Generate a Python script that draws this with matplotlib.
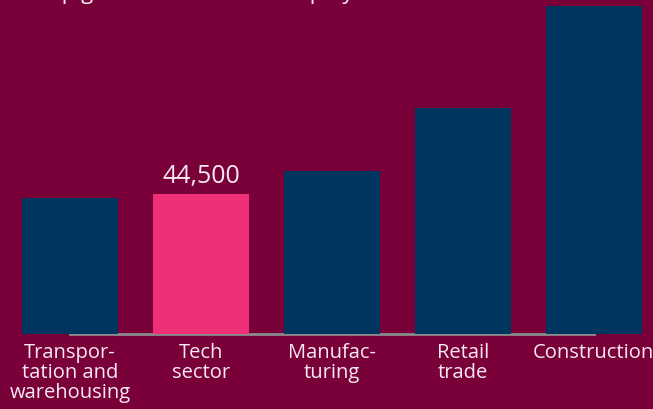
import matplotlib.pyplot as plt

# data
sectors = ["Transpor-\ntation and\nwarehousing", "Tech\nsector", "Manufac-\nturing", "Retail\ntrade", "Construction"]
jobs = [43200, 44500, 51800, 71800, 104300]
highlight = "Tech\nsector"
title = "Top growth sectors for employment"

bg = "#7a003a"
navy = "#00355f"
pink = "#ef2f78"
txt = "#f6e9f0"

plt.rcParams['font.family'] = ['Open Sans', 'DejaVu Sans']

fig = plt.figure(figsize=(6.53, 4.10), dpi=100, facecolor=bg)
ax = fig.add_axes([0, 75 / 410, 1, 335 / 410])
ax.set_facecolor(bg)

xs = list(range(len(sectors)))
colors = [pink if s == highlight else navy for s in sectors]
ax.bar(xs, jobs, width=0.733, color=colors, zorder=2)

# baseline behind the bars
ax.plot([xs[0], xs[-1]], [0, 0], color="#8a8a8a", lw=2, zorder=1, clip_on=False)

# value label for the highlighted bar
i = sectors.index(highlight)
ax.text(xs[i], jobs[i] + 2000, "{:,}".format(jobs[i]), ha="center", va="bottom",
        color=txt, fontsize=18)

ax.set_xlim(-0.535, 4.454)
ax.set_ylim(0, 106500)
ax.set_xticks(xs)
ax.set_xticklabels(sectors, color=txt, fontsize=14.5, linespacing=1.0)
ax.tick_params(axis="x", length=0, pad=6)
ax.set_yticks([])
for s in ax.spines.values():
    s.set_visible(False)

# title mostly cropped off the top of the picture
fig.text(36 / 653, 1.0 + 1 / 410, title, ha="left", va="baseline", color=txt, fontsize=16)

fig.savefig("out.png", dpi=100, facecolor=bg)
plt.close()
